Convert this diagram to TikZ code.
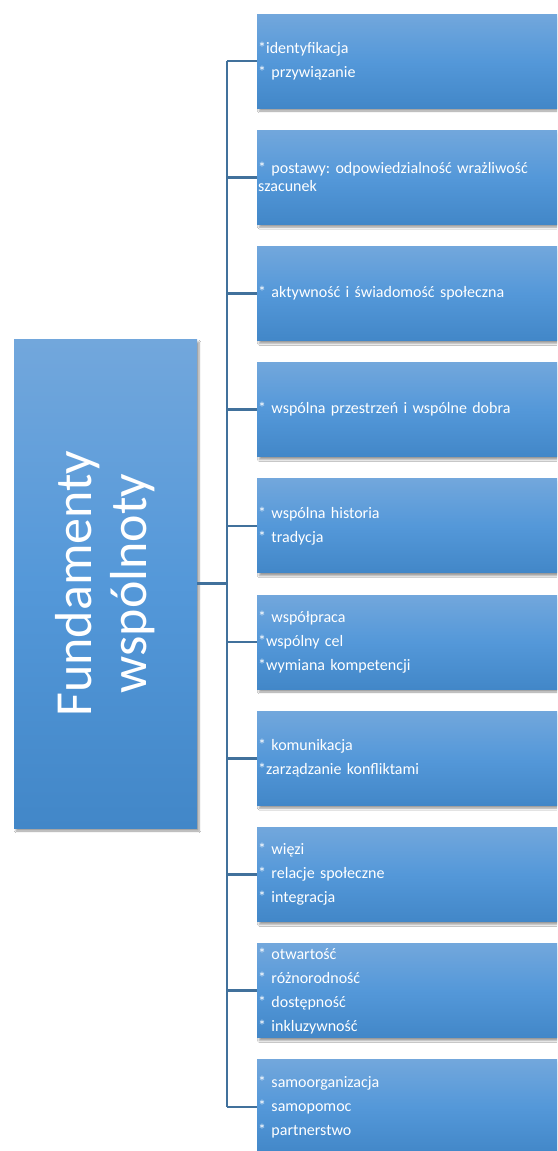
\documentclass[tikz,border=0pt]{standalone}
\usepackage{fontspec}
\setmainfont{Carlito}
\usetikzlibrary{shapes, calc, positioning, shadows.blur}
\definecolor{xTopBlue}{RGB}{114,167,220}
\definecolor{xMidBlue}{RGB}{84,152,217}
\definecolor{xLowBlue}{RGB}{66,135,200}
\definecolor{xLink}{RGB}{65,113,156}
\tikzset{
  boxshade/.style={top color=xTopBlue, bottom color=xLowBlue, middle color=xMidBlue,
    blur shadow={shadow xshift=2pt, shadow yshift=-3pt, shadow blur steps=6, shadow opacity=40}},
  itembox/.style={boxshade, anchor=west, minimum width=330pt, minimum height=94pt,
    text width=328pt, inner xsep=1pt, align=left, text=white, font=\fontsize{16}{18}\selectfont},
  link/.style={draw=xLink, line width=2.6pt}
}
\frenchspacing

\begin{document}
\begin{tikzpicture}[x=1pt,y=-1pt]
    \clip (0,0) rectangle (557,1151);
    \fill[white] (0,0) rectangle (557,1151);

    % main box
    \node[boxshade, minimum width=183pt, minimum height=489pt] (fund) at (105.5,583.5) {};
    \node[rotate=90, text=white, align=center, font=\fontsize{52}{55}\selectfont] (fundtext) at (fund.center) {Fundamenty\\wspólnoty};

    % item boxes
    \foreach \txt [count=\i] in {
        {*identyfikacja\\[6pt]* przywiązanie},
        {* postawy: odpowiedzialność wrażliwość\\szacunek},
        {* aktywność i świadomość społeczna},
        {* wspólna przestrzeń i wspólne dobra},
        {* wspólna historia\\[6pt]* tradycja},
        {* współpraca\\[6pt]*wspólny cel\\[6pt]*wymiana kompetencji},
        {* komunikacja\\[6pt]*zarządzanie konfliktami},
        {* więzi\\[6pt]* relacje społeczne\\[6pt]* integracja},
        {* otwartość\\[6pt]* różnorodność\\[6pt]* dostępność\\[6pt]* inkluzywność},
        {* samoorganizacja\\[6pt]* samopomoc\\[6pt]* partnerstwo}} {
      \node[itembox] (item\i) at (257,{61+116.2*(\i-1)}) {\txt};
    }

    % connectors
    \coordinate (trunk) at (227,0);
    \draw[link] (fund.east) -- (fund.east -| trunk);
    \draw[link] (item1.west -| trunk) -- (item10.west -| trunk);
    \foreach \i in {1,...,10} {
      \draw[link] (item\i.west -| trunk) -- (item\i.west);
    }
\end{tikzpicture}
\end{document}
